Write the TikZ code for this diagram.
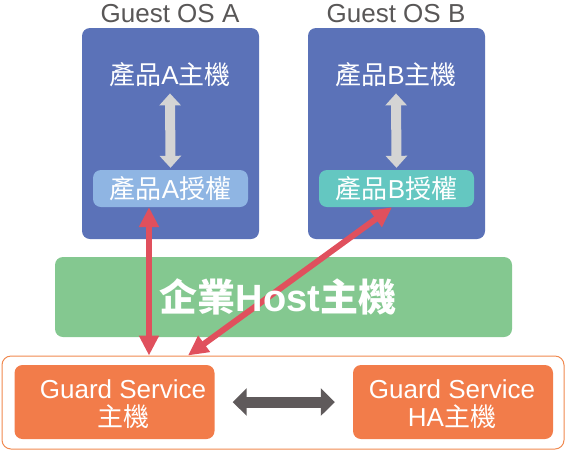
\documentclass[tikz,border=0pt]{standalone}
\usepackage{fontspec}
\setmainfont{Liberation Sans}
\newfontfamily\cjk{Noto Sans CJK TC}
\usetikzlibrary{arrows.meta,calc}
\definecolor{guestblue}{HTML}{5B72B8}
\definecolor{licblue}{HTML}{8FB5E3}
\definecolor{licteal}{HTML}{64C7C1}
\definecolor{hostgreen}{HTML}{84C890}
\definecolor{gsorange}{HTML}{F27C4A}
\definecolor{outerorange}{HTML}{F0894F}
\definecolor{redarrow}{HTML}{E0505D}
\definecolor{grayarrow}{HTML}{D4D4D4}
\definecolor{darkarrow}{HTML}{5F5A5B}
\definecolor{labelgray}{HTML}{595757}
\newcommand{\zh}[1]{{\cjk #1}}
\begin{document}
\begin{tikzpicture}[x=1pt,y=-1pt,
  guestbox/.style={fill=guestblue, draw=none, rounded corners=8pt, minimum width=177pt, minimum height=211pt, inner sep=0pt},
  licbox/.style={draw=none, rounded corners=8pt, minimum width=155pt, minimum height=37pt, inner sep=0pt, text=white, font=\fontsize{26}{30}\selectfont},
  gsbox/.style={fill=gsorange, draw=none, rounded corners=8pt, minimum width=200pt, minimum height=74pt, inner sep=0pt},
  wtext/.style={text=white, inner sep=0pt, font=\fontsize{26}{28}\selectfont, align=center},
  gtext/.style={text=labelgray, inner sep=0pt, font=\fontsize{26}{30}\selectfont},
  grayarr/.style={draw=grayarrow, line width=10pt, {Triangle[width=21pt,length=12pt]}-{Triangle[width=21pt,length=12pt]}},
  redarr/.style={draw=redarrow, line width=6pt, {Triangle[width=19pt,length=20pt]}-{Triangle[width=19pt,length=20pt]}},
  darkarr/.style={draw=darkarrow, line width=11pt, {Triangle[width=27pt,length=14pt]}-{Triangle[width=27pt,length=14pt]}}
]
\useasboundingbox (0,0) rectangle (567,451);
% guest boxes
\node[guestbox] (guestA) at (170.5,133.5) {};
\node[guestbox] (guestB) at (396.5,133.5) {};
\node[gtext] (labA) at (170,14) {Guest OS A};
\node[gtext] (labB) at (396,14) {Guest OS B};
\node[wtext] (mainA) at (170,75) {\zh{產品}A\zh{主機}};
\node[wtext] (mainB) at (396,75) {\zh{產品}B\zh{主機}};
\node[licbox, fill=licblue] (licA) at (170.5,188.5) {\zh{產品}A\zh{授權}};
\node[licbox, fill=licteal] (licB) at (396.5,188.5) {\zh{產品}B\zh{授權}};
\draw[grayarr] ([yshift=-6pt]mainA.south) -- ([yshift=2pt]licA.north);
\draw[grayarr] ([yshift=-6pt]mainB.south) -- ([yshift=2pt]licB.north);
% host box
\node[fill=hostgreen, rounded corners=8pt, minimum width=457pt, minimum height=80pt, inner sep=0pt] (host) at (283.5,297) {};
% guard services
\node[draw=outerorange, line width=1pt, rounded corners=9pt, minimum width=562pt, minimum height=93pt, inner sep=0pt] (outer) at (283,402.5) {};
\node[gsbox] (gsA) at (114.5,402) {};
\node[gsbox] (gsB) at (453,402) {};
\node[wtext] (gsAtext) at (123,404) {Guard Service\\\zh{主機}};
\node[wtext] (gsBtext) at (452,404.5) {Guard Service\\HA\zh{主機}};
\draw[darkarr] ([xshift=18pt]gsA.east) -- ([xshift=-18pt]gsB.west);
% red arrows
\draw[redarr] ([xshift=-21.5pt]licA.south) -- ([xshift=-21.5pt]licA.south |- outer.north);
\draw[redarr] ([xshift=-4.5pt]licB.south) -- ([xshift=-95pt]outer.north);
% host text, above the arrows
\node[text=white, inner sep=0pt, font=\fontsize{38}{40}\selectfont\bfseries] (hosttext) at (278,297)
  {\zh{企業}Host\zh{主機}};
\end{tikzpicture}
\end{document}
